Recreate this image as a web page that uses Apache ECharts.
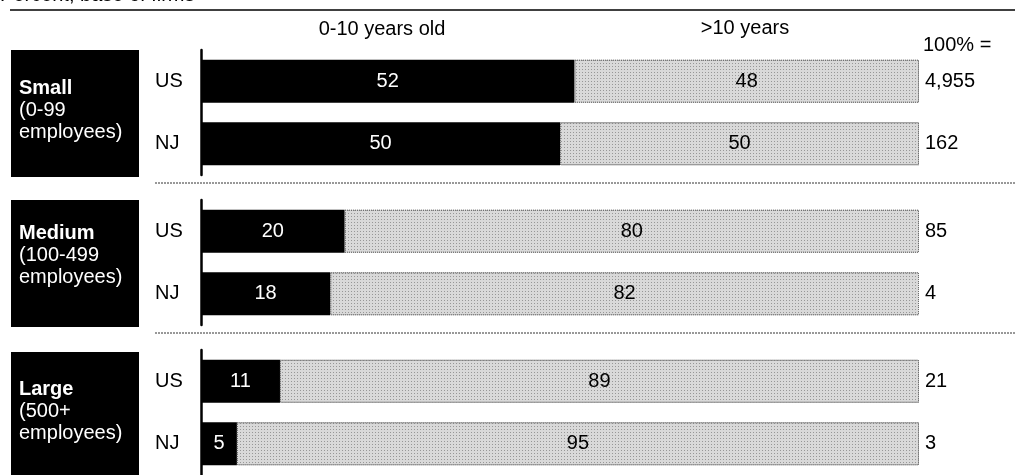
<!DOCTYPE html>
<html>
<head>
<meta charset="utf-8">
<script src="https://cdn.jsdelivr.net/npm/echarts@6/dist/echarts.min.js"></script>
<style>
  html, body { margin: 0; padding: 0; background: #fff; }
  #main { width: 1020px; height: 475px; }
</style>
</head>
<body>
<div id="main"></div>
<script>
// data
const groups = ['Small', 'Medium', 'Large'];
const groupSub = [['(0-99', 'employees)'], ['(100-499', 'employees)'], ['(500+', 'employees)']];
const regions = ['US', 'NJ'];
const youngShare = [[52, 50], [20, 18], [11, 5]];   // 0-10 years old
const oldShare = [[48, 50], [80, 82], [89, 95]];    // >10 years
const firmCounts = [['4,955', '162'], ['85', '4'], ['21', '3']];
const colHeaders = ['0-10 years old', '>10 years', '100% ='];

const FONT = "'Liberation Sans', Arial, sans-serif";
const FS = 20;
const GRID_TOP = 50, GRID_H = 125, GRID_STEP = 150;

let grids = [], xAxes = [], yAxes = [], series = [], graphics = [];

groups.forEach(function (g, i) {
  const top = GRID_TOP + i * GRID_STEP;
  grids.push({ left: 201, right: 101, top: top, height: GRID_H });
  xAxes.push({ gridIndex: i, type: 'value', min: 0, max: 100, show: false });
  yAxes.push({
    gridIndex: i, type: 'category', data: regions, inverse: true,
    axisLine: { show: true, lineStyle: { color: '#000', width: 2.5 } },
    axisTick: { show: false },
    axisLabel: { color: '#000', fontSize: FS, fontFamily: FONT, align: 'left', margin: 46 }
  });

  // black part
  series.push({
    type: 'bar', stack: 'g' + i, xAxisIndex: i, yAxisIndex: i,
    barWidth: 43, data: youngShare[i],
    itemStyle: { color: '#000' },
    label: { show: true, position: 'inside', color: '#fff', fontSize: FS, fontFamily: FONT },
    silent: true
  });
  // dotted grey part
  series.push({
    type: 'bar', stack: 'g' + i, xAxisIndex: i, yAxisIndex: i,
    barWidth: 43, data: oldShare[i],
    itemStyle: {
      color: '#d9d9d9', borderColor: '#6f6f6f', borderWidth: 1, borderType: 'dotted',
      decal: { symbol: 'rect', symbolSize: 1, dashArrayX: [1, 2], dashArrayY: [1, 2], color: 'rgba(0,0,0,0.3)' }
    },
    label: { show: true, position: 'inside', color: '#000', fontSize: FS, fontFamily: FONT },
    silent: true
  });
  // empty stack end, only carries the total on the right
  series.push({
    type: 'bar', stack: 'g' + i, xAxisIndex: i, yAxisIndex: i,
    barWidth: 43, data: [0, 0],
    itemStyle: { color: 'transparent' },
    label: {
      show: true, position: 'right', distance: 6, color: '#000', fontSize: FS, fontFamily: FONT,
      formatter: function (p) { return firmCounts[i][p.dataIndex]; }
    },
    silent: true
  });

  // black box with the size class
  const boxTop = i === 2 ? top + 2 : top;
  graphics.push({
    type: 'rect', left: 11, top: boxTop,
    shape: { width: 128, height: i === 2 ? 475 - boxTop : 127 },
    style: { fill: '#000' }
  });
  graphics.push({
    type: 'text', left: 19, top: top + [27, 22, 28][i],
    style: {
      text: '{b|' + g + '}\n' + groupSub[i].join('\n'),
      fill: '#fff', font: FS + 'px ' + FONT, lineHeight: 22,
      rich: { b: { fontWeight: 'bold', fontSize: FS, fontFamily: FONT, fill: '#fff', lineHeight: 22 } }
    }
  });

  // dashed divider under the first two groups
  if (i < 2) {
    graphics.push({
      type: 'line', shape: { x1: 155, y1: top + 133, x2: 1015, y2: top + 133 },
      style: { stroke: '#333', lineWidth: 1, lineDash: [2, 1] }
    });
  }
});

// cut off title and top rule
graphics.push({
  type: 'text', x: 0, y: 5,
  style: { text: 'Percent, base of firms', font: FS + 'px ' + FONT, fill: '#000', verticalAlign: 'bottom' }
});
graphics.push({
  type: 'line', shape: { x1: 10, y1: 10, x2: 1015, y2: 10 },
  style: { stroke: '#000', lineWidth: 1.5 }
});

// column headers
graphics.push({
  type: 'text', x: 382, y: 29,
  style: { text: colHeaders[0], font: FS + 'px ' + FONT, fill: '#000', align: 'center', verticalAlign: 'middle' }
});
graphics.push({
  type: 'text', x: 745, y: 28,
  style: { text: colHeaders[1], font: FS + 'px ' + FONT, fill: '#000', align: 'center', verticalAlign: 'middle' }
});
graphics.push({
  type: 'text', x: 923, y: 45,
  style: { text: colHeaders[2], font: FS + 'px ' + FONT, fill: '#000', align: 'left', verticalAlign: 'middle' }
});

const chart = echarts.init(document.getElementById('main'));
chart.setOption({
  animation: false,
  aria: { enabled: false, decal: { show: false } },
  grid: grids,
  xAxis: xAxes,
  yAxis: yAxes,
  series: series,
  graphic: graphics
});
</script>
</body>
</html>
